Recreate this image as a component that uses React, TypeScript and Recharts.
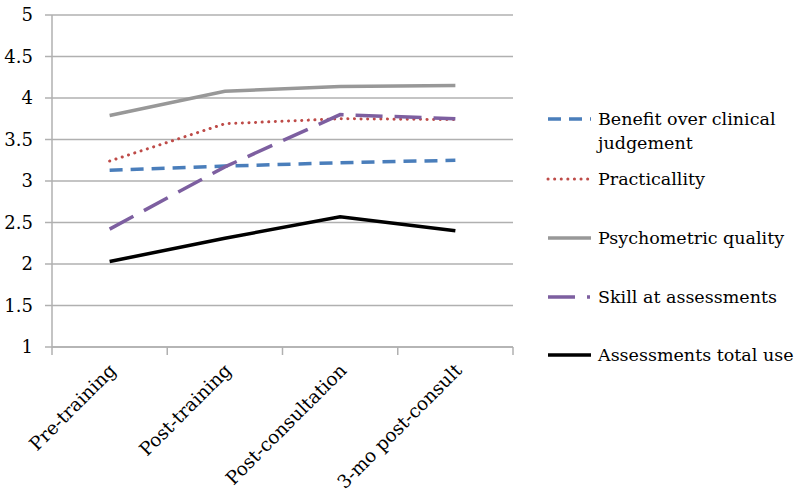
import React from 'react';
import { LineChart, Line, XAxis, YAxis, CartesianGrid, Legend } from 'recharts';

const categories = ['Pre-training', 'Post-training', 'Post-consultation', '3-mo post-consult'];
const benefit = [3.13, 3.18, 3.22, 3.25];
const practicality = [3.24, 3.69, 3.75, 3.74];
const psychometric = [3.79, 4.08, 4.14, 4.15];
const skill = [2.42, 3.17, 3.8, 3.75];
const totalUse = [2.03, 2.31, 2.57, 2.4];
const yTicks = [1, 1.5, 2, 2.5, 3, 3.5, 4, 4.5, 5];

const data = categories.map((c, i) => ({
  name: c,
  benefit: benefit[i],
  practicality: practicality[i],
  psychometric: psychometric[i],
  skill: skill[i],
  totalUse: totalUse[i],
}));

const series = [
  { key: 'benefit', label: ['Benefit over clinical', 'judgement'], color: '#4A7EBB', dash: '13 8', cap: 'butt', width: 3.5, legendDash: '13 8' },
  { key: 'practicality', label: ['Practicallity'], color: '#BE4B48', dash: '0.1 6.5', cap: 'round', width: 3, legendDash: '0.1 6.5' },
  { key: 'psychometric', label: ['Psychometric quality'], color: '#989898', dash: undefined, cap: 'butt', width: 3.5, legendDash: undefined },
  { key: 'skill', label: ['Skill at assessments'], color: '#7D5FA0', dash: '27 12', cap: 'butt', width: 3.5, legendDash: '27 12 3 10' },
  { key: 'totalUse', label: ['Assessments total use'], color: '#000000', dash: undefined, cap: 'butt', width: 3.5, legendDash: undefined },
];

const FONT = 'DejaVu Serif';
const AXIS = '#b0b0b0';

const XTick = (props: any) => {
  const { x, y, payload, index } = props;
  const off = payload.offset || 0;
  return (
    <g>
      <line x1={x - off} y1={y - 8} x2={x - off} y2={y} stroke={AXIS} strokeWidth={1.5} />
      {index === categories.length - 1 && (
        <line x1={x + off} y1={y - 8} x2={x + off} y2={y} stroke={AXIS} strokeWidth={1.5} />
      )}
      <text
        x={0}
        y={0}
        transform={`translate(${x - 2},${y + 7}) rotate(-45)`}
        textAnchor="end"
        dominantBaseline="hanging"
        fontFamily={FONT}
        fontSize={18.5}
        fill="#000"
      >
        {payload.value}
      </text>
    </g>
  );
};

const legendYs = [0, 60, 119, 178, 236];

const LegendContent = () => (
  <svg width={280} height={260} style={{ overflow: 'visible' }}>
    {series.map((s, i) => {
      const y = legendYs[i] + 10;
      return (
        <g key={s.key}>
          <line
            x1={35}
            x2={78}
            y1={y}
            y2={y}
            stroke={s.color}
            strokeWidth={s.width}
            strokeDasharray={s.legendDash}
            strokeLinecap={s.cap as any}
          />
          {s.label.map((t, j) => (
            <text key={j} x={85} y={y + 6 + j * 24} fontFamily={FONT} fontSize={17.5} fill="#000">
              {t}
            </text>
          ))}
        </g>
      );
    })}
  </svg>
);

export default function App() {
  return (
    <div style={{ position: 'absolute', left: 0, top: 0, background: '#fff' }}>
      <LineChart width={800} height={495} data={data} margin={{ top: 15, right: 7, bottom: 0, left: 0 }}>
        <CartesianGrid vertical={false} stroke={AXIS} strokeWidth={1.5} />
        <XAxis
          dataKey="name"
          scale="band"
          height={148}
          interval={0}
          tickLine={false}
          axisLine={{ stroke: AXIS, strokeWidth: 1.5 }}
          tick={<XTick />}
        />
        <YAxis
          domain={[1, 5]}
          ticks={yTicks}
          width={52}
          tickLine={{ stroke: AXIS, strokeWidth: 1.5 }}
          tickSize={7}
          axisLine={{ stroke: AXIS, strokeWidth: 1.5 }}
          tick={{ fontFamily: FONT, fontSize: 18, fill: '#000' }}
          tickMargin={12}
        />
        <Legend
          layout="vertical"
          align="right"
          verticalAlign="top"
          width={280}
          content={<LegendContent />}
          wrapperStyle={{ top: 109, right: 7 }}
        />
        {series.map((s) => (
          <Line
            key={s.key}
            type="linear"
            dataKey={s.key}
            stroke={s.color}
            strokeWidth={s.width}
            strokeDasharray={s.dash}
            strokeLinecap={s.cap as any}
            dot={false}
            activeDot={false}
            isAnimationActive={false}
          />
        ))}
      </LineChart>
    </div>
  );
}
